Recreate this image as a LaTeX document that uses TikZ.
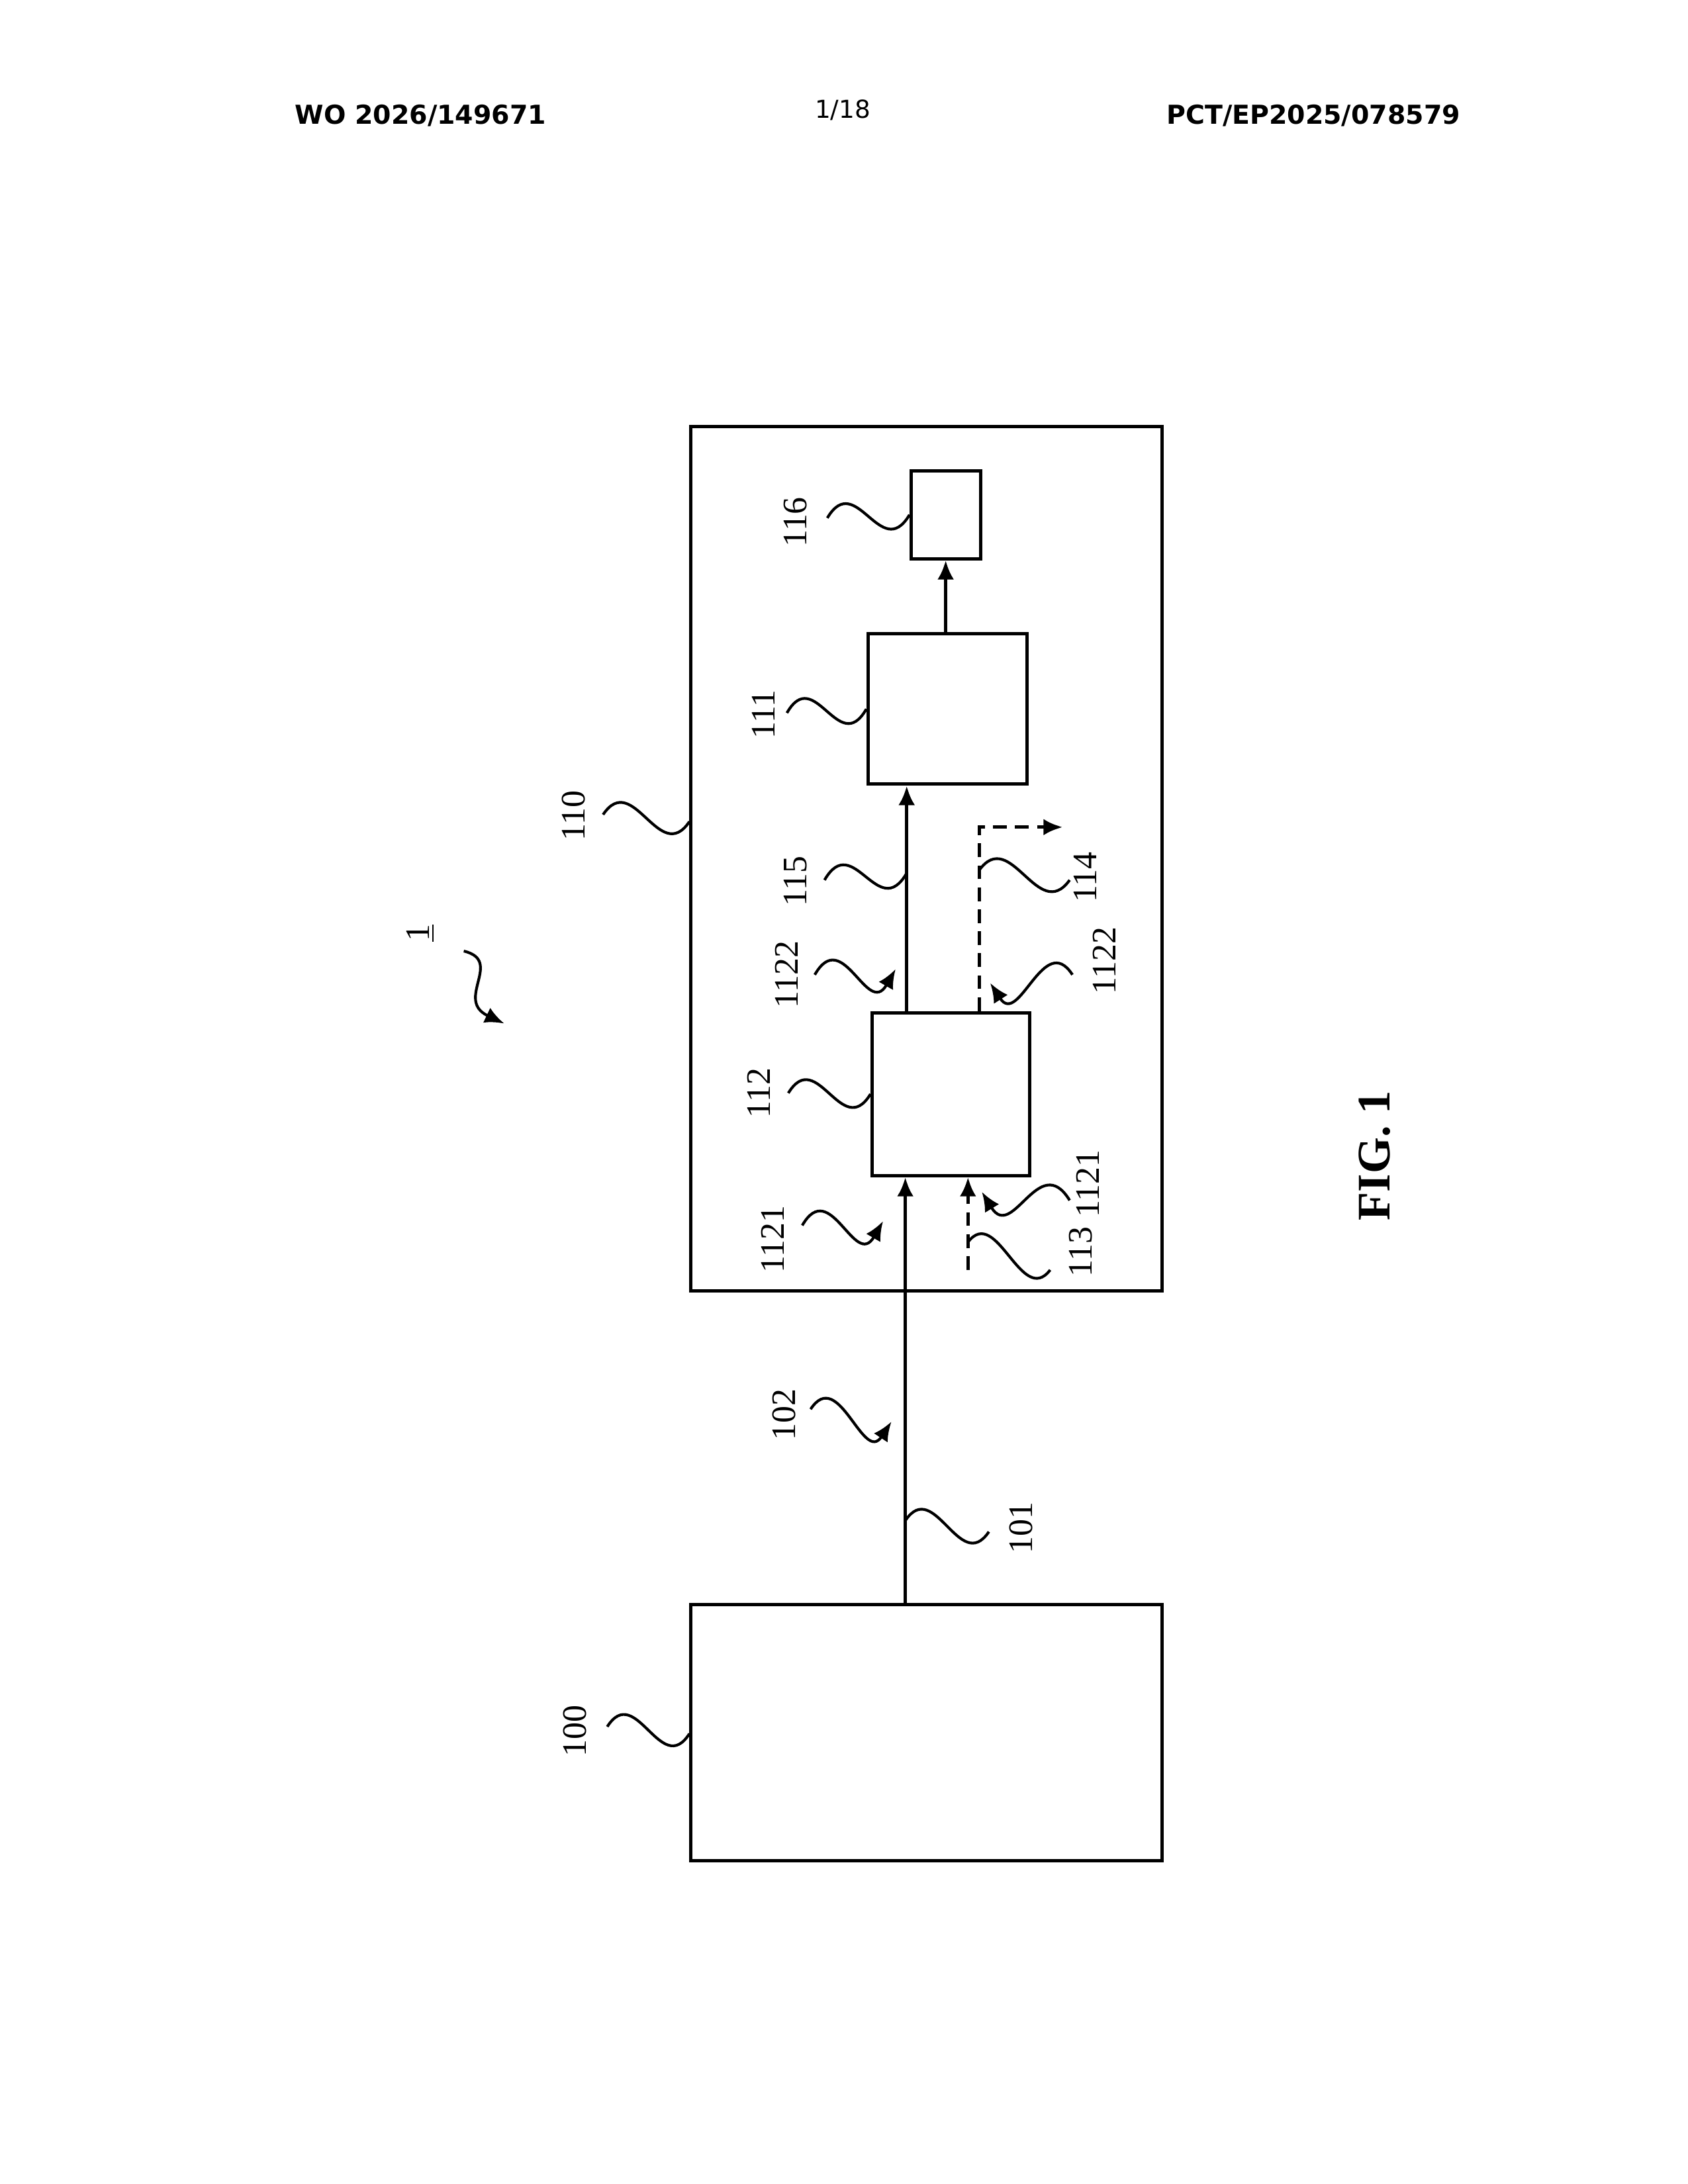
\documentclass[tikz,border=0pt]{standalone}
\usepackage{fontspec}
\setmainfont{Liberation Serif}
\newfontfamily\hdrfont{DejaVu Sans}
\usetikzlibrary{arrows.meta,calc}

\tikzset{
  blk/.style={draw, line width=1.2pt, inner sep=0pt, anchor=north west},
  flow/.style={line width=1.2pt, -{Latex[length=7pt,width=6pt]}},
  dflow/.style={flow, dash pattern=on 5pt off 3pt},
  lbl/.style={rotate=90, font=\fontsize{12.5}{12.5}\selectfont, inner sep=0pt},
  tip/.style={line width=1pt, -{Latex[length=7pt,width=6pt]}}
}
% wavy leader from #2 to #3
\newcommand\wig[3][]{\draw[line width=1pt,#1] (#2) .. controls ($(#2)!0.35!(#3)+(0,-34)$) and ($(#2)!0.65!(#3)+(0,34)$) .. (#3);}

\begin{document}
\begin{tikzpicture}[x=0.507pt, y=-0.507pt]
  \useasboundingbox[fill=white] (0pt,0pt) rectangle (614.4pt,-795.2pt);
  % header
  \node[font=\hdrfont\bfseries\fontsize{9.5}{10}\selectfont] (hl) at (302,83) {WO 2026/149671};
  \node[font=\hdrfont\fontsize{9}{10}\selectfont] (hm) at (605,79) {1/18};
  \node[font=\hdrfont\bfseries\fontsize{9.5}{10}\selectfont] (hr) at (943,83) {PCT/EP2025/078579};

  % blocks
  \node[blk, minimum width=338*0.507pt, minimum height=621*0.507pt] (b110) at (495,305) {};
  \node[blk, minimum width=338*0.507pt, minimum height=184*0.507pt] (b100) at (495,1151) {};
  \node[blk, minimum width=114*0.507pt, minimum height=108*0.507pt] (b111) at (622,454) {};
  \node[blk, minimum width=113*0.507pt, minimum height=117*0.507pt] (b112) at (625,726) {};
  \node[blk, minimum width=50*0.507pt, minimum height=63*0.507pt] (b116) at (653,337) {};

  % flows
  \coordinate (in113) at (695,912);
  \coordinate (c114) at (703,594);
  \coordinate (out114) at (763,594);
  \draw[flow] (b100.north -| 650,0) -- (b112.south -| 650,0);
  \draw[flow] (b112.north -| 651,0) -- (b111.south -| 651,0);
  \draw[flow] (b111.north -| 679,0) -- (b116.south -| 679,0);
  \draw[dflow] (in113) -- (b112.south -| in113);
  \draw[dflow] (b112.north -| c114) -- (c114) -- (out114);

  % reference labels
  \node[lbl] (l116) at (571,375) {116};
  \node[lbl] (l111) at (548,513) {111};
  \node[lbl] (l110) at (412,586) {110};
  \node[lbl] (l115) at (571,633) {115};
  \node[lbl] (l1122a) at (565,700) {1122};
  \node[lbl] (l114) at (779,630) {114};
  \node[lbl] (l1122b) at (793,690) {1122};
  \node[lbl] (l112) at (545,785) {112};
  \node[lbl] (l1121a) at (555,890) {1121};
  \node[lbl] (l1121b) at (781,850) {1121};
  \node[lbl] (l113) at (776,899) {113};
  \node[lbl] (l102) at (563,1016) {102};
  \node[lbl] (l101) at (733,1097) {101};
  \node[lbl] (l100) at (413,1243) {100};
  \node[lbl] (l1) at (302,670) {\underline{1}};
  \node[rotate=90, font=\bfseries\fontsize{17}{17}\selectfont, inner sep=0pt] (fig) at (987,830) {FIG. 1};

  % leaders
  \wig{594,372}{b116.west}
  \wig{565,512}{b111.west}
  \wig{433,585}{495,590}
  \wig{592,632}{651,627}
  \wig[tip]{585,700}{643,696}
  \wig{703,625}{768,632}
  \wig[tip]{770,700}{711,706}
  \wig{566,785}{b112.west}
  \wig[tip]{576,880}{634,877}
  \wig[tip]{768,862}{705,856}
  \wig{695,892}{754,912}
  \wig[tip]{582,1012}{640,1021}
  \wig{650,1092}{710,1100}
  \wig{436,1240}{495,1245}
  \draw[tip] (333,683) .. controls (362,690) and (326,718) .. (362,735);
\end{tikzpicture}
\end{document}
